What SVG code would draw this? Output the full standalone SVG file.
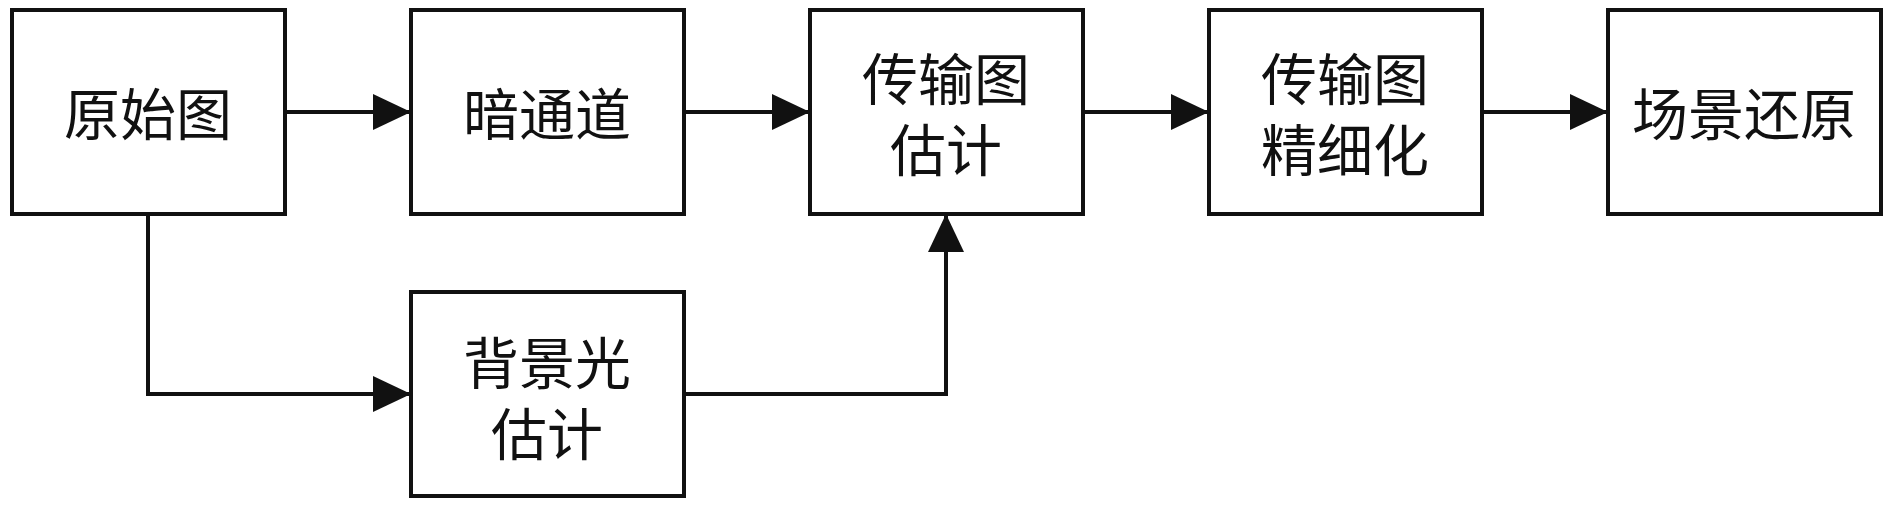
<svg xmlns="http://www.w3.org/2000/svg" width="1890" height="506" viewBox="0 0 1890 506">
<style>
.box{fill:#fff;stroke:#111;stroke-width:4}
.lbl{font-family:"Noto Sans CJK SC","Noto Sans CJK JP",sans-serif;font-size:56px;fill:#111;text-anchor:middle;dominant-baseline:central}
.con{fill:none;stroke:#111;stroke-width:4;marker-end:url(#ah)}
</style>
<defs>
<marker id="ah" markerUnits="userSpaceOnUse" markerWidth="38" markerHeight="36" refX="38" refY="18" orient="auto" viewBox="0 0 38 36">
<path d="M0,0 L38,18 L0,36 Z" fill="#111"/>
</marker>
</defs>
<rect width="1890" height="506" fill="#fff"/>
<g id="connectors">
<path class="con" d="M285,112 H411"/>
<path class="con" d="M684,112 H810"/>
<path class="con" d="M1083,112 H1209"/>
<path class="con" d="M1482,112 H1608"/>
<path class="con" d="M148,214 V394 H411"/>
<path class="con" d="M684,394 H946 V214"/>
</g>
<g id="n1"><rect class="box" x="12" y="10" width="273" height="204"/><text class="lbl" x="148" y="110">原始图</text></g>
<g id="n2"><rect class="box" x="411" y="10" width="273" height="204"/><text class="lbl" x="547" y="110">暗通道</text></g>
<g id="n3"><rect class="box" x="810" y="10" width="273" height="204"/><text class="lbl"><tspan x="946" y="75">传输图</tspan><tspan x="946" y="146">估计</tspan></text></g>
<g id="n4"><rect class="box" x="1209" y="10" width="273" height="204"/><text class="lbl"><tspan x="1345" y="75">传输图</tspan><tspan x="1345" y="146">精细化</tspan></text></g>
<g id="n5"><rect class="box" x="1608" y="10" width="273" height="204"/><text class="lbl" x="1744" y="110">场景还原</text></g>
<g id="n6"><rect class="box" x="411" y="292" width="273" height="204"/><text class="lbl"><tspan x="547" y="359">背景光</tspan><tspan x="547" y="430">估计</tspan></text></g>
</svg>
